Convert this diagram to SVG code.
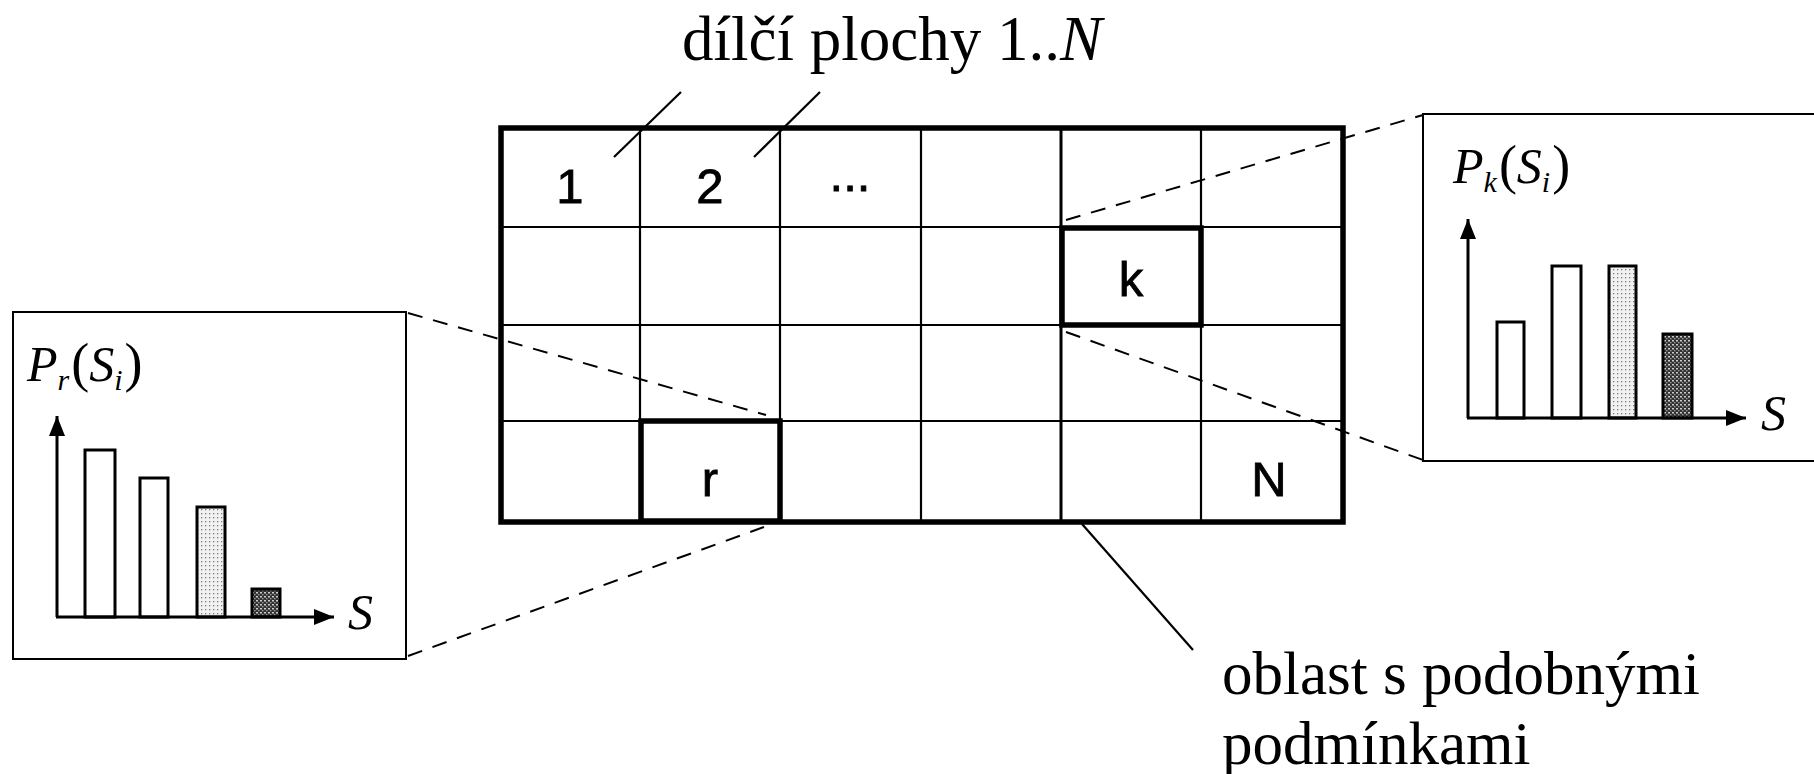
<svg xmlns="http://www.w3.org/2000/svg" width="1814" height="774" viewBox="0 0 1814 774">
<style>
.serif{font-family:"Liberation Serif","Times New Roman",serif;fill:#000}
.sans{font-family:"Liberation Sans",Arial,sans-serif;fill:#000;font-size:49px;text-anchor:middle;stroke:#000;stroke-width:0.8}
.thin{stroke:#000;stroke-width:2.2;fill:none}
.thick{stroke:#000;stroke-width:5.5;fill:none}
.dash{stroke:#000;stroke-width:2;fill:none;stroke-dasharray:15 11}
.bar{stroke:#000;stroke-width:3;fill:#fff}
.axis{stroke:#000;stroke-width:3;fill:none}
.box{stroke:#000;stroke-width:2;fill:#fff}
.lbl{font-size:50px;font-style:italic}
.sub{font-size:30px}
.par{font-style:normal;font-size:54px}
</style>
<defs>
<pattern id="light" width="4" height="4" patternUnits="userSpaceOnUse">
<rect width="4" height="4" fill="#f2f2f2"/>
<rect x="1" y="1" width="1.3" height="1.3" fill="#777"/>
</pattern>
<pattern id="dark" width="4" height="4" patternUnits="userSpaceOnUse">
<rect width="4" height="4" fill="#333"/>
<rect x="0" y="0" width="2" height="1.5" fill="#ccc"/>
<rect x="2" y="2" width="1.5" height="1.3" fill="#999"/>
</pattern>
<marker id="arrb" viewBox="0 0 10 8" refX="10" refY="4" markerWidth="26" markerHeight="16" markerUnits="userSpaceOnUse" orient="auto">
<path d="M0,0 L10,4 L0,8 z" fill="#000"/>
</marker>
</defs>

<g id="title">
<text class="serif" x="892" y="60" font-size="63" text-anchor="middle">dílčí plochy 1..<tspan font-style="italic">N</tspan></text>
</g>

<g id="grid">
<rect class="thin" x="501" y="128" width="842" height="394"/>
<line class="thin" x1="640" y1="128" x2="640" y2="522"/>
<line class="thin" x1="780" y1="128" x2="780" y2="522"/>
<line class="thin" x1="921" y1="128" x2="921" y2="522"/>
<line class="axis" x1="1061" y1="128" x2="1061" y2="522"/>
<line class="thin" x1="1201" y1="128" x2="1201" y2="522"/>
<line class="thin" x1="501" y1="227" x2="1343" y2="227"/>
<line class="thin" x1="501" y1="325" x2="1343" y2="325"/>
<line class="thin" x1="501" y1="421" x2="1343" y2="421"/>
<rect class="thick" x="501" y="128" width="842" height="394"/>
<text class="sans" x="570" y="203">1</text>
<text class="sans" x="710" y="203">2</text>
<text class="sans" x="850" y="191">...</text>
<text class="sans" x="1269" y="496">N</text>
</g>

<g id="cell-k">
<rect class="thick" x="1062" y="228" width="139" height="97"/>
<text class="sans" x="1131" y="296">k</text>
</g>

<g id="cell-r">
<rect class="thick" x="641" y="421" width="139" height="100"/>
<text class="sans" x="710" y="496">r</text>
</g>

<g id="connectors">
<line class="thin" x1="681" y1="92" x2="614" y2="157"/>
<line class="thin" x1="820" y1="92" x2="754" y2="157"/>
<line class="thin" x1="1082" y1="524" x2="1193" y2="650"/>
<line class="dash" x1="408" y1="313" x2="766" y2="415"/>
<line class="dash" x1="408" y1="656" x2="764" y2="527"/>
<line class="dash" x1="1066" y1="220" x2="1423" y2="115"/>
<line class="dash" x1="1066" y1="332" x2="1423" y2="460"/>
</g>

<g id="chart-r">
<rect class="box" x="13" y="312" width="393" height="347"/>
<text class="serif lbl" x="27" y="381">P<tspan class="sub" dy="9">r</tspan><tspan class="par" dy="-9" dx="2">(</tspan>S<tspan class="sub" dy="9">i</tspan><tspan class="par" dy="-9" dx="2">)</tspan></text>
<rect class="bar" x="85" y="450" width="30" height="167"/>
<rect class="bar" x="140" y="478" width="28" height="139"/>
<rect class="bar" x="197" y="507" width="28" height="110" style="fill:url(#light)"/>
<rect class="bar" x="252" y="589" width="28" height="28" style="fill:url(#dark)"/>
<line class="axis" x1="57" y1="617" x2="57" y2="416" marker-end="url(#arrb)"/>
<line class="axis" x1="56" y1="617" x2="334" y2="617" marker-end="url(#arrb)"/>
<text class="serif lbl" x="348" y="629">S</text>
</g>

<g id="chart-k">
<rect class="box" x="1423" y="114" width="400" height="347"/>
<text class="serif lbl" x="1453" y="183">P<tspan class="sub" dy="9">k</tspan><tspan class="par" dy="-9" dx="2">(</tspan>S<tspan class="sub" dy="9">i</tspan><tspan class="par" dy="-9" dx="2">)</tspan></text>
<rect class="bar" x="1497" y="322" width="27" height="96"/>
<rect class="bar" x="1552" y="266" width="29" height="152"/>
<rect class="bar" x="1609" y="266" width="27" height="152" style="fill:url(#light)"/>
<rect class="bar" x="1663" y="334" width="29" height="84" style="fill:url(#dark)"/>
<line class="axis" x1="1468" y1="418" x2="1468" y2="219" marker-end="url(#arrb)"/>
<line class="axis" x1="1467" y1="418" x2="1746" y2="418" marker-end="url(#arrb)"/>
<text class="serif lbl" x="1761" y="430">S</text>
</g>

<g id="label-oblast">
<text class="serif" x="1222" y="694" font-size="61">oblast s podobnými</text>
<text class="serif" x="1222" y="764" font-size="61">podmínkami</text>
</g>
</svg>
